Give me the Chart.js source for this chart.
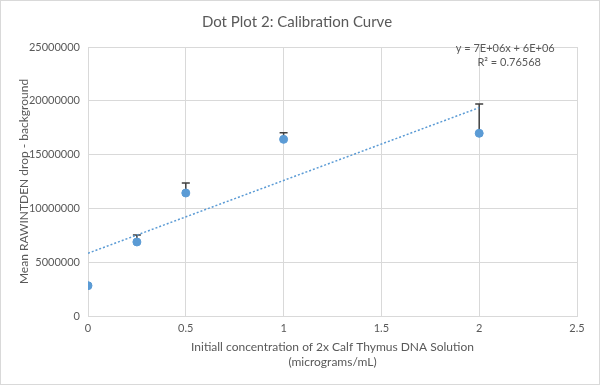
<!DOCTYPE html>
<html>
<head>
<meta charset="utf-8">
<script src="https://cdn.jsdelivr.net/npm/chart.js@4/dist/chart.umd.min.js"></script>
<style>
  html, body { margin: 0; padding: 0; background: #fff; }
  #wrap { width: 600px; height: 385px; box-sizing: border-box; border: 1px solid #d9d9d9; position: relative; }
  canvas { position: absolute; left: -1px; top: -1px; }
</style>
</head>
<body>
<div id="wrap"><canvas id="calChart" width="600" height="385"></canvas></div>
<script>
// concentration (micrograms/mL)
const concentrations = [0, 0.25, 0.5, 1, 2];
// mean RAWINTDEN drop - background
const meanValues = [2820000, 6880000, 11430000, 16420000, 16980000];
// upper error (plus only)
const plusErrors = [100000, 650000, 930000, 600000, 2720000];
const xTicks = [0, 0.5, 1, 1.5, 2, 2.5];
const yTicks = [0, 5000000, 10000000, 15000000, 20000000, 25000000];
const trendText = ['y = 7E+06x + 6E+06', 'R² = 0.76568'];

const textColor = '#595959';
const gridColor = '#d9d9d9';
const blue = '#5b9bd5';
const fontFam = 'Lato, "Noto Sans", sans-serif';

// least squares trendline
function linearFit(xs, ys) {
    let n = xs.length, mx = 0, my = 0;
    for (let i = 0; i < n; i++) { mx += xs[i]; my += ys[i]; }
    mx /= n; my /= n;
    let sxy = 0, sxx = 0;
    for (let i = 0; i < n; i++) {
        sxy += (xs[i] - mx) * (ys[i] - my);
        sxx += (xs[i] - mx) * (xs[i] - mx);
    }
    const m = sxy / sxx;
    return { m: m, b: my - m * mx };
}
const fit = linearFit(concentrations, meanValues);
const xLast = concentrations[concentrations.length - 1];

const errorBars = {
    id: 'errorBars',
    beforeDatasetsDraw(chart) {
        const c = chart.ctx;
        const xs = chart.scales.x, ys = chart.scales.y;
        const a = chart.chartArea;
        c.save();
        c.beginPath();
        c.rect(a.left, a.top - 5, a.right - a.left, a.bottom - a.top + 5);
        c.clip();
        c.strokeStyle = '#404040';
        c.lineWidth = 1.5;
        concentrations.forEach((x, i) => {
            const px = xs.getPixelForValue(x);
            const y0 = ys.getPixelForValue(meanValues[i]);
            const y1 = ys.getPixelForValue(meanValues[i] + plusErrors[i]);
            c.beginPath();
            c.moveTo(px, y0);
            c.lineTo(px, y1);
            c.moveTo(px - 4, y1);
            c.lineTo(px + 4, y1);
            c.stroke();
        });
        c.restore();
    }
};

const trendLabel = {
    id: 'trendLabel',
    afterDraw(chart) {
        const c = chart.ctx;
        const px = chart.scales.x.getPixelForValue(xLast) + 26;
        const top = chart.chartArea.top;
        c.save();
        c.fillStyle = textColor;
        c.font = '11px ' + fontFam;
        c.textAlign = 'center';
        c.textBaseline = 'middle';
        c.fillText(trendText[0], px, top + 1);
        c.fillText(trendText[1], px + 4, top + 15);
        c.restore();
    }
};

const ctx = document.getElementById('calChart');
const calChart = new Chart(ctx, {
    type: 'scatter',
    data: {
        datasets: [{
            label: 'Mean',
            data: concentrations.map((x, i) => ({ x: x, y: meanValues[i] })),
            backgroundColor: blue,
            borderColor: blue,
            pointRadius: 4,
            pointHoverRadius: 4
        }, {
            label: 'Linear',
            data: [{ x: 0, y: fit.b }, { x: xLast, y: fit.m * xLast + fit.b }],
            showLine: true,
            borderColor: blue,
            borderWidth: 1.5,
            borderDash: [2, 2],
            pointRadius: 0,
            fill: false
        }]
    },
    options: {
        responsive: false,
        animation: false,
        layout: { padding: { left: 17, right: 23, top: 0, bottom: 0 } },
        plugins: {
            legend: { display: false },
            tooltip: { enabled: false },
            title: {
                display: true,
                text: 'Dot Plot 2: Calibration Curve',
                color: textColor,
                font: { family: fontFam, size: 15, weight: 'normal' },
                padding: { top: 13, bottom: 16 }
            }
        },
        scales: {
            x: {
                type: 'linear',
                min: 0,
                max: 2.5,
                afterBuildTicks: (s) => { s.ticks = xTicks.map(v => ({ value: v })); },
                afterFit: (s) => { s.height = 69; },
                ticks: {
                    color: textColor,
                    font: { family: fontFam, size: 11 },
                    padding: 6,
                    callback: (v) => String(v)
                },
                grid: { color: gridColor, lineWidth: 1, drawTicks: false },
                border: { color: gridColor },
                title: {
                    display: true,
                    text: ['Initiall concentration of 2x Calf Thymus DNA Solution', '(micrograms/mL)'],
                    color: textColor,
                    font: { family: fontFam, size: 12, lineHeight: 1.2 },
                    padding: { top: 4, bottom: 16 }
                }
            },
            y: {
                min: 0,
                max: 25000000,
                afterBuildTicks: (s) => { s.ticks = yTicks.map(v => ({ value: v })); },
                afterFit: (s) => { s.width = 71; },
                ticks: {
                    color: textColor,
                    font: { family: fontFam, size: 11 },
                    padding: 8,
                    callback: (v) => String(v)
                },
                grid: { color: gridColor, lineWidth: 1, drawTicks: false },
                border: { color: gridColor },
                title: {
                    display: true,
                    text: 'Mean RAWINTDEN drop - background',
                    color: textColor,
                    font: { family: fontFam, size: 12 },
                    padding: { top: 0, bottom: 4 }
                }
            }
        }
    },
    plugins: [errorBars, trendLabel]
});
</script>
</body>
</html>
